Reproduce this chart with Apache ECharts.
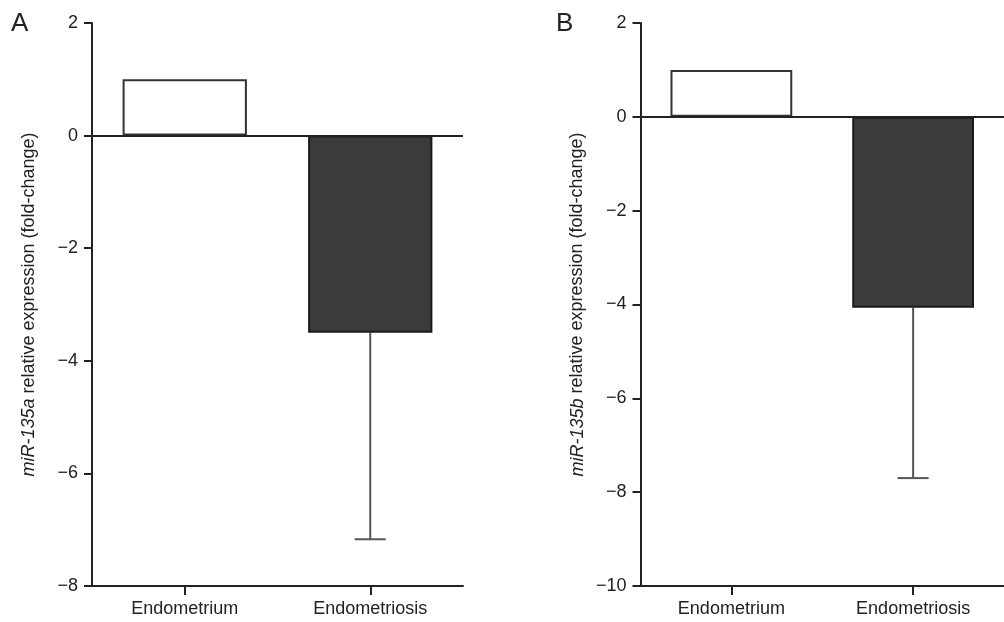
<!DOCTYPE html>
<html>
<head>
<meta charset="utf-8">
<script src="https://cdn.jsdelivr.net/npm/echarts@6/dist/echarts.min.js"></script>
<style>
html,body{margin:0;padding:0;background:#fff;}
#c{width:1004px;height:622px;}
</style>
</head>
<body>
<div id="c"></div>
<script>
// ---- data ----
const categories = ['Endometrium', 'Endometriosis'];
const meanA = [1.0, -3.5];
const errLowA = [1.0, -7.17];      // end of error bar (value)
const meanB = [1.0, -4.07];
const errLowB = [1.0, -7.7];
const yRangeA = [-8, 2];
const yRangeB = [-10, 2];
const yLabelA = ['miR-135a', ' relative expression (fold-change)'];
const yLabelB = ['miR-135b', ' relative expression (fold-change)'];
const panelLabels = ['A', 'B'];

const FONT = '"Liberation Sans", Arial, Helvetica, sans-serif';
const INK = '#222';
const fmt = v => v < 0 ? '\u2212' + Math.abs(v) : String(v);

function barData(vals) {
  return vals.map((v, i) => ({
    value: v,
    itemStyle: i === 0
      ? { color: '#ffffff', borderColor: '#333', borderWidth: 2 }
      : { color: '#3b3b3b', borderColor: '#1a1a1a', borderWidth: 2 }
  }));
}

function errSeries(idx, means, lows) {
  return {
    type: 'custom',
    xAxisIndex: idx, yAxisIndex: idx,
    silent: true, z: 1,
    data: categories.map((c, i) => [i, means[i], lows[i]]),
    renderItem: function (params, api) {
      const x = api.value(0);
      const top = api.coord([x, api.value(1)]);
      const bot = api.coord([x, api.value(2)]);
      if (Math.abs(top[1] - bot[1]) < 1) return null;
      const half = 15.5;
      return {
        type: 'group',
        children: [
          { type: 'line', shape: { x1: top[0], y1: top[1], x2: bot[0], y2: bot[1] },
            style: { stroke: '#555', lineWidth: 2 } },
          { type: 'line', shape: { x1: bot[0] - half, y1: bot[1], x2: bot[0] + half, y2: bot[1] },
            style: { stroke: '#555', lineWidth: 2 } }
        ]
      };
    }
  };
}

function yAxis(idx, range, label) {
  return {
    type: 'value', gridIndex: idx,
    min: range[0], max: range[1], interval: 2,
    name: '{i|' + label[0] + '}{n|' + label[1] + '}',
    nameLocation: 'middle', nameGap: 54, nameRotate: 90,
    nameTextStyle: {
      rich: {
        i: { fontStyle: 'italic', fontSize: 18, color: INK, fontFamily: FONT },
        n: { fontSize: 18, color: INK, fontFamily: FONT }
      }
    },
    axisLine: { show: true, lineStyle: { color: INK, width: 2 } },
    axisTick: { show: true, inside: false, length: 8, lineStyle: { color: INK, width: 2 } },
    axisLabel: { formatter: fmt, fontSize: 18, color: INK, fontFamily: FONT, margin: 14 },
    splitLine: { show: false }
  };
}

function xAxis(idx) {
  return {
    type: 'category', gridIndex: idx, data: categories,
    position: 'bottom',
    axisLine: { show: true, onZero: false, lineStyle: { color: INK, width: 2 } },
    axisTick: { show: true, alignWithLabel: true, length: 9, lineStyle: { color: INK, width: 2 } },
    axisLabel: { fontSize: 18, color: INK, fontFamily: FONT, margin: 14 }
  };
}

function barSeries(idx, vals) {
  return {
    type: 'bar', xAxisIndex: idx, yAxisIndex: idx,
    data: barData(vals), barWidth: '67%', z: 2,
    markLine: {
      silent: true, symbol: 'none', label: { show: false },
      lineStyle: { color: INK, width: 2, type: 'solid' },
      data: [{ yAxis: 0 }]
    }
  };
}

const chart = echarts.init(document.getElementById('c'), null, { renderer: 'canvas' });
chart.setOption({
  animation: false,
  backgroundColor: '#fff',
  grid: [
    { left: 92, top: 23, width: 371, height: 563, containLabel: false },
    { left: 640.5, top: 23, width: 369, height: 563, containLabel: false }
  ],
  xAxis: [xAxis(0), xAxis(1)],
  yAxis: [yAxis(0, yRangeA, yLabelA), yAxis(1, yRangeB, yLabelB)],
  graphic: [
    { type: 'text', left: 11, top: 11, style: { text: panelLabels[0], fontSize: 26, fill: INK, fontFamily: FONT } },
    { type: 'text', left: 556, top: 11, style: { text: panelLabels[1], fontSize: 26, fill: INK, fontFamily: FONT } }
  ],
  series: [
    barSeries(0, meanA), errSeries(0, meanA, errLowA),
    barSeries(1, meanB), errSeries(1, meanB, errLowB)
  ]
});
</script>
</body>
</html>
